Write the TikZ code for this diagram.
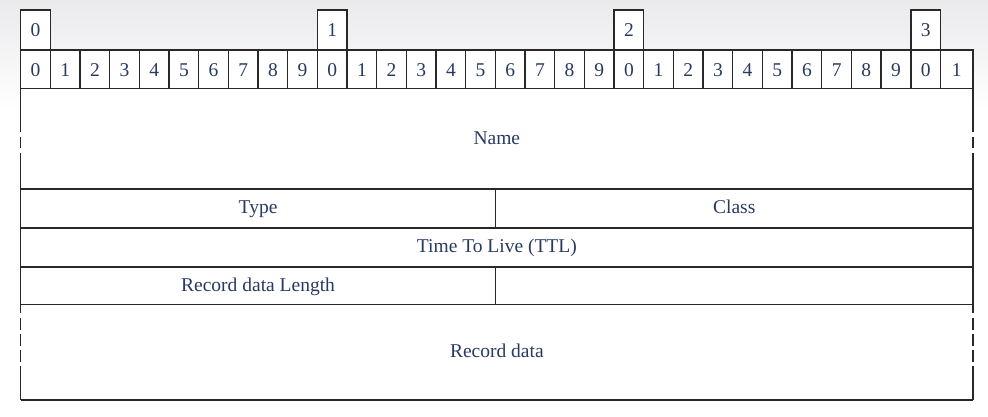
\documentclass[tikz,border=0pt]{standalone}
\usepackage{fontspec}
\setmainfont{Liberation Serif}
\definecolor{txt}{RGB}{40,58,98}
\definecolor{ln}{RGB}{40,40,40}
\definecolor{bgtop}{RGB}{234,234,237}
\begin{document}
\begin{tikzpicture}[x=1pt,y=-1pt,
  font=\fontsize{19.5}{22}\selectfont,
  cell/.style={draw=ln, line width=1.4pt, fill=white, text=txt, inner sep=0pt,
    outer sep=0pt, minimum height=39pt, anchor=north west,
    text height=13pt, text depth=0pt},
  field/.style={draw=ln, line width=1.4pt, fill=white, text=txt, inner sep=0pt,
    outer sep=0pt, anchor=north west, text height=13pt, text depth=3pt},
  open/.style={field, draw=none},
  side/.style={draw=ln, line width=1.4pt}]
\useasboundingbox (0,0) rectangle (988,416);
\fill[white] (0,0) rectangle (988,416);
\shade[top color=bgtop, bottom color=white] (0,0) rectangle (988,110);
% bit header cells
\foreach \i in {0,...,31} {
  \pgfmathsetmacro\xx{20.7+29.67*\i}
  \pgfmathtruncatemacro\d{mod(\i,10)}
  \ifnum\i=31 \def\w{32.5}\else\def\w{29.67}\fi
  \node[cell, minimum width=\w pt] (b\i) at (\xx,50) {\d};
}
% decade boxes
\foreach \k in {0,1,2,3} {
  \pgfmathsetmacro\xx{20.7+296.7*\k}
  \node[cell, minimum width=29.67pt, minimum height=40pt] (t\k) at (\xx,10) {\k};
}
% Name (open sides)
\node[open, minimum width=952.3pt, minimum height=100pt] (name) at (20.7,89) {Name};
\draw[side, dash pattern=on 43pt off 5pt on 11pt off 5pt on 40pt]
  (name.north west) -- (name.south west);
\draw[side, dash pattern=on 43pt off 5pt on 11pt off 5pt on 40pt]
  (name.north east) -- (name.south east);
% Type / Class
\node[field, minimum width=474.7pt, minimum height=39pt] (type) at (20.7,189) {Type};
\node[field, minimum width=477.6pt, minimum height=39pt] (class) at (495.4,189) {Class};
% TTL
\node[field, minimum width=952.3pt, minimum height=39pt] (ttl) at (20.7,228) {Time To Live (TTL)};
% Record data length
\node[field, minimum width=474.7pt, minimum height=38pt] (rdl) at (20.7,267) {Record data Length};
\node[field, minimum width=477.6pt, minimum height=38pt] (rdx) at (495.4,267) {};
% Record data (open sides)
\node[open, minimum width=952.3pt, minimum height=95pt] (rd) at (20.7,305) {Record data};
\draw[side] (rd.south west) -- (rd.south east);
\draw[side, dash pattern=on 8pt off 5pt on 12pt off 4pt on 12pt off 4pt on 12pt off 4pt on 40pt]
  (rd.north west) -- (rd.south west);
\draw[side, dash pattern=on 8pt off 5pt on 12pt off 4pt on 12pt off 4pt on 12pt off 4pt on 40pt]
  (rd.north east) -- (rd.south east);
% redraw borders shared with neighbours
\draw[side] (type.north west) -- (class.north east);
\end{tikzpicture}
\end{document}
